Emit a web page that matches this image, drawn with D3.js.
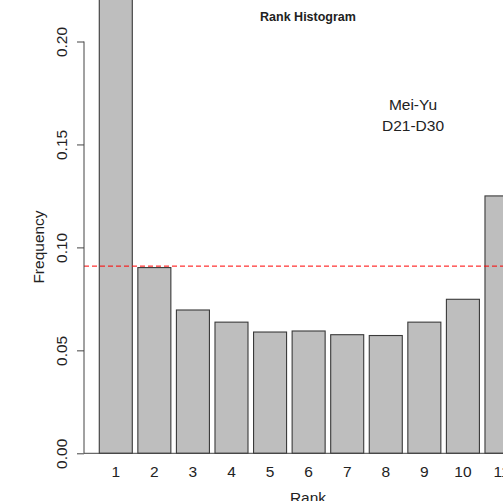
<!DOCTYPE html>
<html>
<head>
<meta charset="utf-8">
<script src="https://cdn.jsdelivr.net/npm/d3@7"></script>
<style>
  html, body { margin: 0; padding: 0; background: #fff; }
  svg { display: block; font-family: "Liberation Sans", Arial, sans-serif; }
</style>
</head>
<body>
<svg id="chart" width="503" height="501"></svg>
<script>
// Rank histogram data
const ranks = [1, 2, 3, 4, 5, 6, 7, 8, 9, 10, 11];
const frequency = [0.280, 0.0902, 0.0696, 0.0637, 0.0589, 0.0594, 0.0576, 0.0572, 0.0637, 0.0748, 0.125];
const yTicks = [0, 0.05, 0.10, 0.15, 0.20];
const uniformLevel = 1 / 11;

const svg = d3.select("#chart");
const W = 503, H = 501;
const FS = 15.5;

const y = d3.scaleLinear().domain([0, 0.2]).range([453.3, 41.5]);
const x = d3.scaleBand()
  .domain(ranks)
  .range([96.5, 96.5 + 11 * 38.57])
  .paddingInner(0.144)
  .paddingOuter(0.072);

const axisX = 84;

// bars
svg.append("g")
  .selectAll("rect")
  .data(ranks)
  .join("rect")
  .attr("x", d => x(d))
  .attr("width", x.bandwidth())
  .attr("y", (d, i) => y(frequency[i]))
  .attr("height", (d, i) => y(0) - y(frequency[i]))
  .attr("fill", "#bebebe")
  .attr("stroke", "#3a3a3a")
  .attr("stroke-width", 1.1);

// baseline at zero
svg.append("line")
  .attr("x1", axisX).attr("x2", W)
  .attr("y1", y(0)).attr("y2", y(0))
  .attr("stroke", "#444").attr("stroke-width", 1);

// uniform reference level
svg.append("line")
  .attr("x1", axisX).attr("x2", W)
  .attr("y1", y(uniformLevel)).attr("y2", y(uniformLevel))
  .attr("stroke", "#ff0000").attr("stroke-width", 1)
  .attr("stroke-dasharray", "5,3");

// y axis
const gy = svg.append("g")
  .attr("transform", `translate(${axisX},0)`)
  .call(d3.axisLeft(y).tickValues(yTicks).tickSize(7).tickFormat(d3.format(".2f")));
gy.select(".domain").attr("stroke", "#444").attr("d", `M-0,${y(0)}V${y(0.2)}`);
gy.selectAll(".tick line").attr("stroke", "#444");
gy.selectAll(".tick text")
  .attr("x", null).attr("dy", null)
  .attr("transform", "translate(-21,0) rotate(-90)")
  .attr("text-anchor", "middle")
  .attr("dominant-baseline", "middle")
  .attr("font-size", FS)
  .attr("font-family", "Liberation Sans, Arial, sans-serif")
  .attr("fill", "#222");

// x labels
const gx = svg.append("g")
  .attr("transform", `translate(0,${y(0)})`)
  .call(d3.axisBottom(x).tickSize(0));
gx.select(".domain").remove();
gx.selectAll(".tick text")
  .attr("y", 24).attr("dy", null)
  .attr("font-size", FS)
  .attr("font-family", "Liberation Sans, Arial, sans-serif")
  .attr("fill", "#222");

// axis titles
svg.append("text")
  .attr("x", 308).attr("y", 503)
  .attr("text-anchor", "middle")
  .attr("font-size", FS).attr("fill", "#222")
  .text("Rank");

svg.append("text")
  .attr("transform", "translate(43.5,247) rotate(-90)")
  .attr("text-anchor", "middle")
  .attr("font-size", FS).attr("fill", "#222")
  .text("Frequency");

// title
svg.append("text")
  .attr("x", 308).attr("y", 21)
  .attr("text-anchor", "middle")
  .attr("font-size", 12.5).attr("font-weight", "bold").attr("fill", "#222")
  .text("Rank Histogram");

// annotation
svg.append("text")
  .attr("x", 413).attr("y", 110)
  .attr("text-anchor", "middle")
  .attr("font-size", FS).attr("fill", "#222")
  .text("Mei-Yu");
svg.append("text")
  .attr("x", 413).attr("y", 131)
  .attr("text-anchor", "middle")
  .attr("font-size", FS).attr("fill", "#222")
  .text("D21-D30");
</script>
</body>
</html>
